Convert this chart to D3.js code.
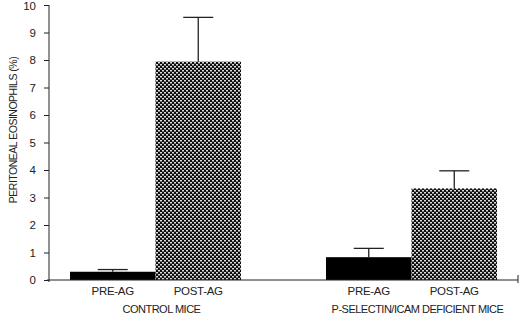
<!DOCTYPE html>
<html><head><meta charset="utf-8">
<script src="https://cdn.jsdelivr.net/npm/d3@7"></script>
<style>
html,body{margin:0;padding:0;background:#fff;}
svg{display:block;font-family:"Liberation Sans",Arial,sans-serif;}
</style></head>
<body>
<svg id="c" width="520" height="315"></svg>
<script>
const groups = ["CONTROL MICE", "P-SELECTIN/ICAM DEFICIENT MICE"];
const conditions = ["PRE-AG", "POST-AG"];
const controlValues = [0.30, 7.94];
const controlErrors = [0.08, 1.61];
const deficientValues = [0.83, 3.33];
const deficientErrors = [0.32, 0.64];
const yTicks = [0,1,2,3,4,5,6,7,8,9,10];
const yTitle = "PERITONEAL EOSINOPHILS (%)";

(function(){
const data = [];
groups.forEach((g, gi) => {
  const vals = gi === 0 ? controlValues : deficientValues;
  const errs = gi === 0 ? controlErrors : deficientErrors;
  conditions.forEach((c, ci) => data.push({group: g, cond: c, value: vals[ci], err: errs[ci]}));
});

const svg = d3.select("#c");
const mLeft = 49, mRight = 518, mTop = 5, mBottom = 280;
const ink = "#222";

const y = d3.scaleLinear().domain([0, 10]).range([mBottom, mTop]);
const x0 = d3.scaleBand().domain(groups).range([mLeft, mRight]).paddingInner(0.332).paddingOuter(0.082);
const x1 = d3.scaleBand().domain(conditions).range([0, x0.bandwidth()]).padding(0);

const defs = svg.append("defs");
const pat = defs.append("pattern").attr("id", "chk").attr("patternUnits", "userSpaceOnUse")
  .attr("width", 4).attr("height", 4);
pat.append("rect").attr("width", 4).attr("height", 4).attr("fill", "#0d0d0d");
pat.append("rect").attr("x", 0).attr("y", 0).attr("width", 2).attr("height", 1.5).attr("fill", "#dcdcdc");
pat.append("rect").attr("x", 2).attr("y", 2).attr("width", 2).attr("height", 1.5).attr("fill", "#dcdcdc");

svg.append("g").selectAll("rect").data(data).join("rect")
  .attr("x", d => x0(d.group) + x1(d.cond))
  .attr("y", d => y(d.value))
  .attr("width", x1.bandwidth())
  .attr("height", d => y(0) - y(d.value))
  .attr("fill", d => d.cond === "PRE-AG" ? "#000" : "url(#chk)");

const eb = svg.append("g").attr("stroke", ink).attr("stroke-width", 1.3);
data.forEach(d => {
  const cx = x0(d.group) + x1(d.cond) + x1.bandwidth() / 2;
  eb.append("line").attr("x1", cx).attr("x2", cx).attr("y1", y(d.value)).attr("y2", y(d.value + d.err));
  eb.append("line").attr("x1", cx - 15).attr("x2", cx + 15).attr("y1", y(d.value + d.err)).attr("y2", y(d.value + d.err));
});

const yAxis = svg.append("g").attr("transform", `translate(${mLeft},0)`)
  .call(d3.axisLeft(y).tickValues(yTicks).tickSize(5).tickPadding(8).tickSizeOuter(0));
yAxis.select(".domain").remove();
yAxis.append("line").attr("x1", 0).attr("x2", 0).attr("y1", mTop).attr("y2", mBottom + 2).attr("stroke", ink);
yAxis.selectAll(".tick line").attr("stroke", ink);
yAxis.selectAll(".tick text").attr("fill", ink).attr("font-size", 11.5).attr("font-family", "Liberation Sans, Arial, sans-serif");
yAxis.selectAll(".tick").filter(d => d === 10).select("text").attr("dy", "0.42em");

svg.append("line").attr("x1", mLeft - 2).attr("x2", mRight).attr("y1", mBottom).attr("y2", mBottom).attr("stroke", ink);
svg.append("line").attr("x1", mRight).attr("x2", mRight).attr("y1", mBottom - 5).attr("y2", mBottom + 3).attr("stroke", ink);

const lab = svg.append("g").attr("fill", ink).attr("font-size", 11.5).attr("text-anchor", "middle");
data.forEach(d => {
  lab.append("text").attr("x", x0(d.group) + x1(d.cond) + x1.bandwidth() / 2).attr("y", 295)
    .attr("letter-spacing", -0.3).text(d.cond);
});
groups.forEach((g, gi) => {
  lab.append("text").attr("x", x0(g) + x0.bandwidth() / 2 + 6).attr("y", 313)
    .attr("font-size", 11).attr("letter-spacing", -0.5).text(g);
});

svg.append("text").attr("transform", "translate(17,130) rotate(-90)")
  .attr("text-anchor", "middle").attr("font-size", 10.5).attr("fill", ink)
  .attr("letter-spacing", -0.5).text(yTitle);
})();
</script>
</body></html>
